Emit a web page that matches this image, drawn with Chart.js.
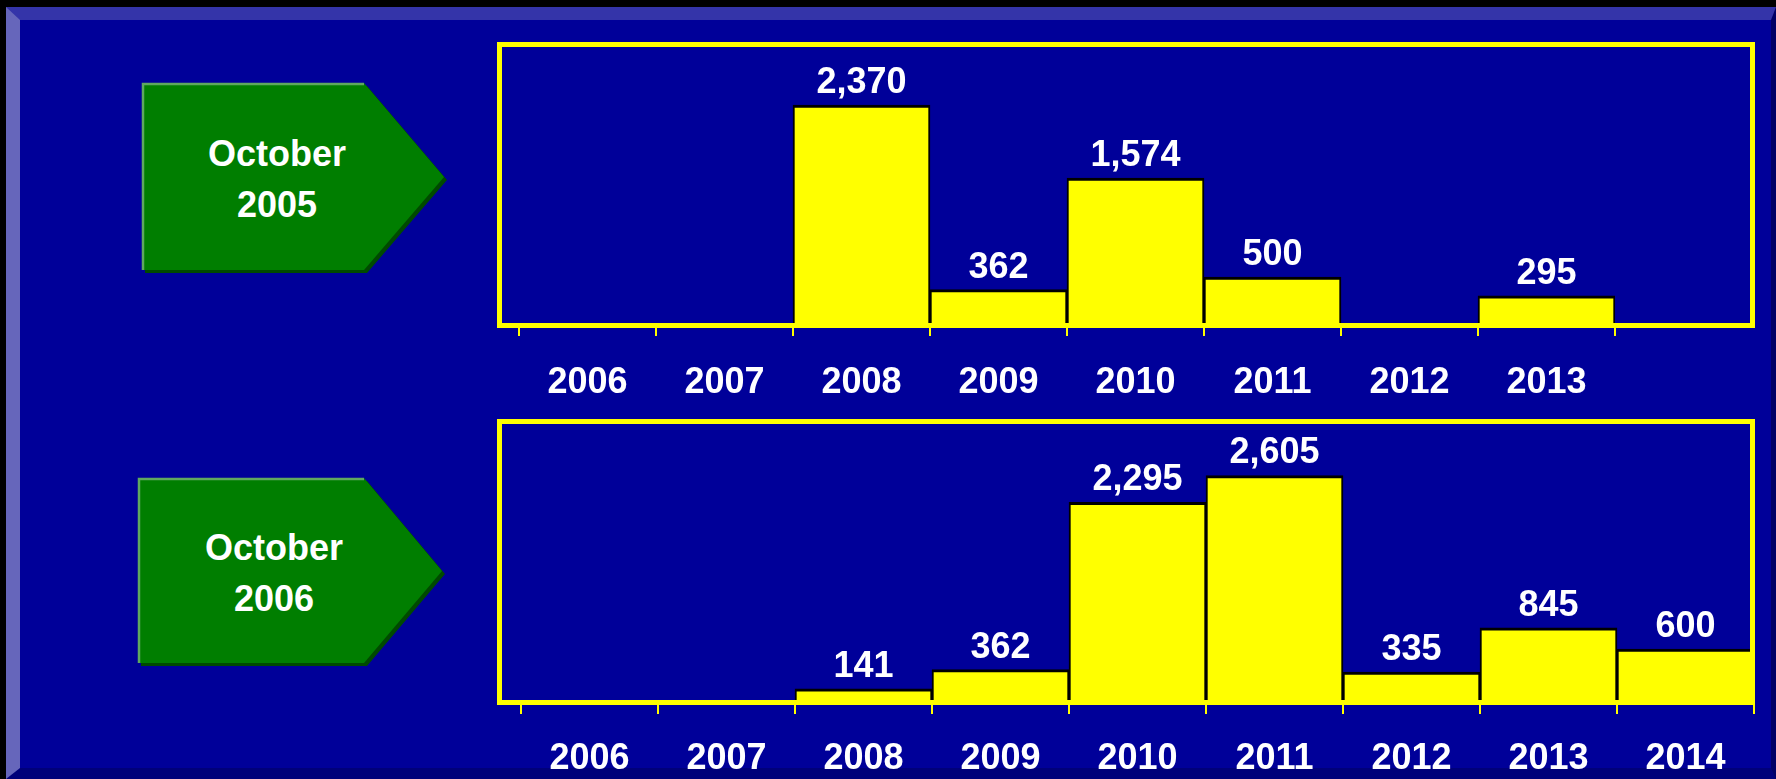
<!DOCTYPE html>
<html>
<head>
<meta charset="utf-8">
<title>October 2005 / October 2006</title>
<script src="https://cdn.jsdelivr.net/npm/chart.js"></script>
<style>
  html, body { margin: 0; padding: 0; background: #000; }
  body { width: 1776px; height: 779px; position: relative; overflow: hidden;
         font-family: "Liberation Sans", Arial, sans-serif; }
  .slide { position: absolute; left: 6px; top: 7px; width: 1770px; height: 772px; box-sizing: border-box;
           background: #000099;
           border-top: 13px solid #3434a9; border-left: 14px solid #6666bb;
           border-bottom: 11px solid #00007a; border-right: 5px solid #000066; }
  svg, canvas { position: absolute; left: 0; top: 0; }
  .tag { position: absolute; width: 300px; text-align: center; color: #fff;
         font-weight: bold; font-size: 36px; line-height: 51px; }
</style>
</head>
<body>
<div class="slide"></div>

<svg width="1776" height="779">
  <!-- October 2005 arrow -->
  <polygon points="145,86 367,86 447,180 367,273 145,273" fill="#004a00"/>
  <polygon points="142,83 364,83 444,177 364,270 142,270" fill="#007e00"/>
  <polyline points="143,270 143,84 364,84" fill="none" stroke="#5fa85f" stroke-width="2.5"/>
  <!-- October 2006 arrow -->
  <polygon points="141,481 367,481 445,574 367,666 141,666" fill="#004a00"/>
  <polygon points="138,478 364,478 442,571 364,663 138,663" fill="#007e00"/>
  <polyline points="139,663 139,479 364,479" fill="none" stroke="#5fa85f" stroke-width="2.5"/>
</svg>

<div class="tag" id="tag0" style="left:127px; top:128px;"></div>
<div class="tag" id="tag1" style="left:124px; top:522px;"></div>

<canvas id="chart2005" width="1776" height="779"></canvas>
<canvas id="chart2006" width="1776" height="779"></canvas>

<script>
// data
const panelTitles = [['October', '2005'], ['October', '2006']];

const years2005 = ['2006', '2007', '2008', '2009', '2010', '2011', '2012', '2013'];
const values2005 = [null, null, 2370, 362, 1574, 500, null, 295];

const years2006 = ['2006', '2007', '2008', '2009', '2010', '2011', '2012', '2013', '2014'];
const values2006 = [null, null, 141, 362, 2295, 2605, 335, 845, 600];

const FONT = '"Liberation Sans", Arial, sans-serif';
const W = 1776, H = 779;
const axisH = 70;

panelTitles.forEach((t, i) => {
  document.getElementById('tag' + i).innerHTML = t.join('<br>');
});

function makePanel(id, labels, values, yMax, box) {
  const yellowFrame = {
    id: 'yellowFrame',
    afterDraw(chart) {
      const ctx = chart.ctx;
      const [x0, y0, x1, y1] = box.frame;
      ctx.save();
      ctx.strokeStyle = '#ffff00';
      ctx.lineWidth = 5;
      ctx.strokeRect(x0 + 2.5, y0 + 2.5, x1 - x0 - 5, y1 - y0 - 5);
      ctx.restore();
    }
  };

  const valueLabels = {
    id: 'valueLabels',
    afterDraw(chart) {
      const ctx = chart.ctx;
      const meta = chart.getDatasetMeta(0);
      ctx.save();
      ctx.fillStyle = '#ffffff';
      ctx.font = 'bold 36px ' + FONT;
      ctx.textAlign = 'center';
      ctx.textBaseline = 'middle';
      meta.data.forEach((bar, i) => {
        const v = values[i];
        if (v == null) return;
        ctx.fillText(v.toLocaleString('en-US'), bar.x, bar.y - 22);
      });
      ctx.restore();
    }
  };

  return new Chart(document.getElementById(id), {
    type: 'bar',
    data: {
      labels: labels,
      datasets: [{
        data: values,
        backgroundColor: '#ffff00',
        borderColor: '#000000',
        borderWidth: { top: 3, left: 2, right: 2, bottom: 0 },
        borderSkipped: 'start',
        barPercentage: 1,
        categoryPercentage: 1
      }]
    },
    options: {
      responsive: false,
      animation: false,
      events: [],
      layout: {
        padding: { left: box.left, right: W - box.right, top: box.top, bottom: H - box.bottom - axisH }
      },
      plugins: {
        legend: { display: false },
        tooltip: { enabled: false }
      },
      scales: {
        x: {
          grid: { drawOnChartArea: false, drawTicks: true, tickLength: 13, color: '#ffff00', lineWidth: 2 },
          border: { display: true, color: '#ffff00', width: 1 },
          ticks: {
            color: '#ffffff',
            font: { family: FONT, size: 36, weight: 'bold' },
            padding: box.labelPad,
            maxRotation: 0,
            autoSkip: false
          },
          afterFit(s) { s.height = axisH; }
        },
        y: { display: false, min: 0, max: yMax }
      }
    },
    plugins: [yellowFrame, valueLabels]
  });
}

makePanel('chart2005', years2005, values2005, 3000,
  { left: 519, right: 1615, top: 47, bottom: 323, frame: [497, 42, 1755, 328], labelPad: 25 });
makePanel('chart2006', years2006, values2006, 3200,
  { left: 521, right: 1754, top: 424, bottom: 701, frame: [497, 419, 1755, 705], labelPad: 23 });
</script>
</body>
</html>
